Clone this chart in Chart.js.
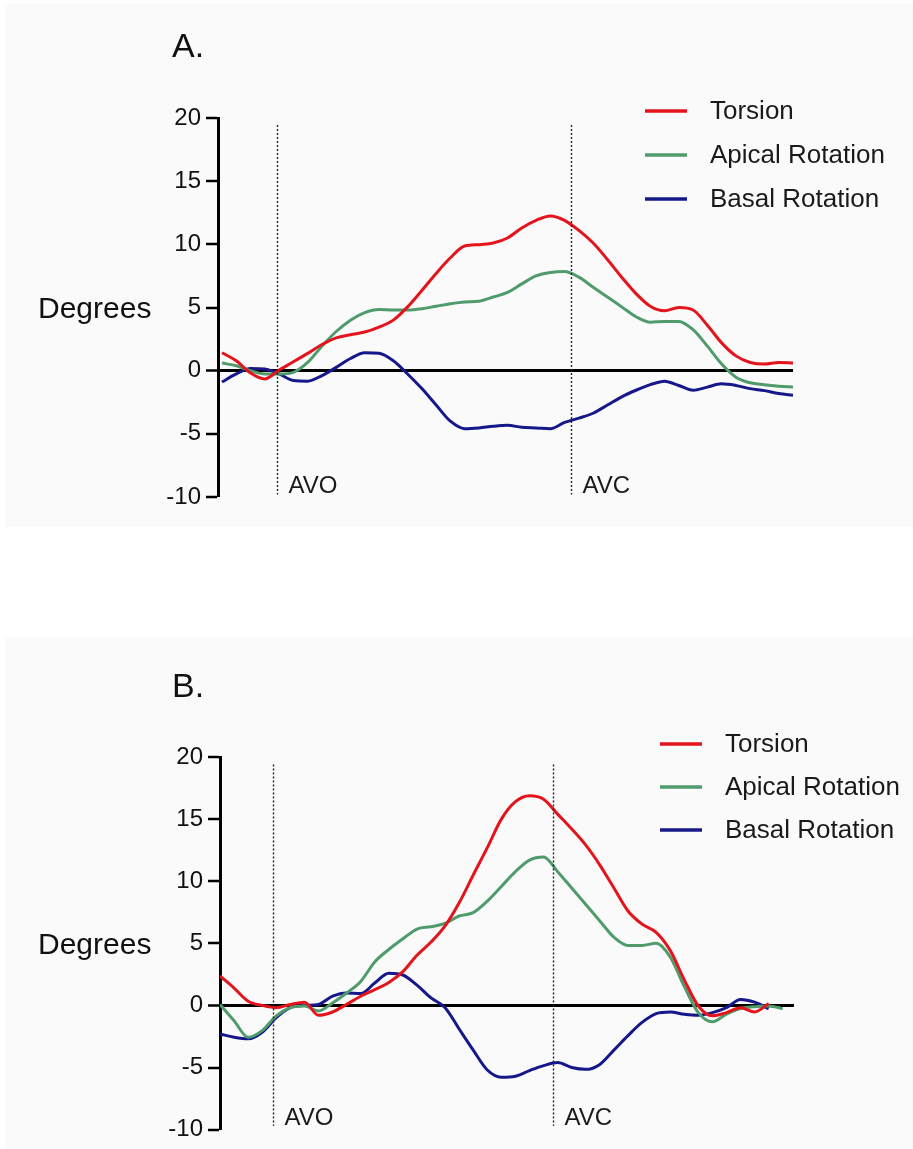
<!DOCTYPE html>
<html><head><meta charset="utf-8">
<script src="https://cdn.jsdelivr.net/npm/chart.js@4.4.1/dist/chart.umd.min.js"></script>
<style>
html,body{margin:0;padding:0;background:#fff;width:913px;height:1149px;overflow:hidden}
.panel{position:absolute;background:#fafafa}
#bgA{left:5px;top:4px;width:908px;height:523px}
#bgB{left:5px;top:637px;width:908px;height:512px}
.wrap{position:absolute;left:0;width:913px}
#wA{top:0;height:560px}
#wB{top:600px;height:549px}
canvas{display:block}
</style></head><body>
<div class="panel" id="bgA"></div><div class="panel" id="bgB"></div>
<div class="wrap" id="wA"><canvas id="cA" width="913" height="560"></canvas></div>
<div class="wrap" id="wB"><canvas id="cB" width="913" height="549"></canvas></div>
<script>
// ---------- DATA ----------
const seriesLabels = ['Torsion', 'Apical Rotation', 'Basal Rotation'];
const yTicks = [-10, -5, 0, 5, 10, 15, 20];
const eventLabels = ['AVO', 'AVC'];

// Panel A (time as % of plotted interval)
const timeA = [0,2.5,5,7.5,10,12.5,15,17.5,20,22.5,25,27.5,30,32.5,35,37.5,40,42.5,45,47.5,50,52.5,55,57.5,60,62.5,65,67.5,70,72.5,75,77.5,80,82.5,85,87.5,90,92.5,95,97.5,100];
const torsionA = [1.42,0.78,-0.18,-0.65,0.05,0.7,1.37,2.07,2.6,2.85,3.06,3.45,4.0,5.05,6.35,7.7,8.94,9.87,9.97,10.1,10.5,11.3,11.9,12.25,11.9,11.1,10.1,8.8,7.4,6.1,5.1,4.74,5.0,4.8,3.6,2.2,1.17,0.65,0.52,0.65,0.6];
const apicalA = [0.6,0.39,0.0,-0.26,-0.26,-0.13,0.65,1.94,3.1,4.0,4.6,4.84,4.8,4.8,4.9,5.1,5.3,5.44,5.5,5.83,6.2,6.87,7.5,7.77,7.85,7.4,6.6,5.83,5.05,4.27,3.83,3.9,3.9,3.24,1.94,0.52,-0.52,-0.96,-1.11,-1.24,-1.3];
const basalA = [-0.9,-0.26,0.18,0.13,-0.26,-0.78,-0.83,-0.39,0.26,0.96,1.42,1.37,0.78,-0.26,-1.42,-2.72,-4.0,-4.59,-4.53,-4.4,-4.33,-4.48,-4.53,-4.59,-4.1,-3.76,-3.37,-2.72,-2.07,-1.55,-1.11,-0.83,-1.17,-1.55,-1.3,-1.04,-1.17,-1.42,-1.58,-1.81,-1.94];
const eventsA = [9.6, 61.1];

// Panel B
const timeB = [0,2.5,5,7.5,10,12.5,15,17.5,20,22.5,25,27.5,30,32.5,35,37.5,40,42.5,45,47.5,50,52.5,55,57.5,60,62.5,65,67.5,70,72.5,75,77.5,80,82.5,85,87.5,90,92.5,95,97.5,100];
const torsionB = [2.37,1.4,0.34,0.0,-0.18,0.08,0.26,-0.8,-0.53,0.08,0.74,1.27,1.85,2.72,4.04,5.1,6.4,8.26,10.5,12.7,15.0,16.4,16.88,16.6,15.4,14.2,12.9,11.3,9.45,7.6,6.54,5.88,4.43,2.06,-0.05,-0.84,-0.58,-0.18,-0.53,0.16];
const apicalB = [0.08,-1.24,-2.56,-2.03,-0.84,-0.18,-0.05,-0.45,0.2,1.0,1.93,3.5,4.5,5.36,6.15,6.33,6.6,7.2,7.47,8.39,9.58,10.77,11.7,11.95,10.77,9.45,8.13,6.8,5.49,4.83,4.83,5.0,3.9,1.53,-0.58,-1.32,-0.71,-0.26,-0.1,-0.05,-0.26];
const basalB = [-2.3,-2.56,-2.69,-2.16,-0.98,-0.18,0.0,0.08,0.74,1.0,0.95,1.8,2.59,2.45,1.63,0.6,-0.18,-1.9,-3.6,-5.2,-5.78,-5.7,-5.25,-4.85,-4.6,-5.0,-5.15,-4.75,-3.6,-2.43,-1.37,-0.66,-0.53,-0.71,-0.79,-0.58,-0.18,0.47,0.26,-0.26];
const eventsB = [9.4, 59.1];

// ---------- STYLE ----------
const FONT = '"Liberation Sans", Arial, Helvetica, sans-serif';
const COLORS = ['#e3141c', '#4f9b6c', '#16188a'];

const toPts = (t, v) => v.map((y, i) => ({x: t[i], y}));

const decor = {
  id: 'decor',
  afterDatasetsDraw(chart, args, o) {
    const ctx = chart.ctx, xs = chart.scales.x, ys = chart.scales.y;
    ctx.save();
    o.events.forEach((ev, i) => {
      const x = Math.round(xs.getPixelForValue(ev)) + 0.5;
      ctx.strokeStyle = '#222';
      ctx.lineWidth = 1.4;
      ctx.setLineDash([2, 2]);
      ctx.beginPath();
      ctx.moveTo(x, ys.getPixelForValue(o.eventTop));
      ctx.lineTo(x, ys.getPixelForValue(o.eventBottom));
      ctx.stroke();
      ctx.setLineDash([]);
      ctx.fillStyle = '#1a1a1a';
      ctx.font = '24px ' + FONT;
      ctx.textAlign = 'left';
      ctx.textBaseline = 'alphabetic';
      ctx.fillText(eventLabels[i], x + 11, ys.getPixelForValue(o.eventLabelY));
    });
    ctx.restore();
  },
  afterDraw(chart, args, o) {
    const ctx = chart.ctx, ys = chart.scales.y;
    ctx.save();
    ctx.fillStyle = '#111';
    ctx.textAlign = 'left';
    ctx.textBaseline = 'alphabetic';
    ctx.font = '34px ' + FONT;
    ctx.fillText(o.title, o.titleX, o.titleY);
    ctx.font = '30px ' + FONT;
    ctx.textBaseline = 'middle';
    ctx.fillText('Degrees', o.degX, ys.getPixelForValue(5) + 2);
    // legend (in series order)
    ctx.font = '26px ' + FONT;
    chart.data.datasets.forEach((ds, i) => {
      const y = o.legY + i * o.legDy;
      ctx.strokeStyle = ds.borderColor;
      ctx.lineWidth = 3.5;
      ctx.beginPath();
      ctx.moveTo(o.legX, y);
      ctx.lineTo(o.legX + 42, y);
      ctx.stroke();
      ctx.fillStyle = '#1a1a1a';
      ctx.fillText(ds.label, o.legTextX, y + 1);
    });
    ctx.restore();
  }
};

function makeChart(canvas, time, series, xr, pad, deco) {
  return new Chart(canvas, {
    type: 'line',
    data: {
      datasets: series.map((s, i) => ({
        label: seriesLabels[i],
        data: toPts(time.slice(0, s.length), s),
        borderColor: COLORS[i],
        backgroundColor: COLORS[i],
        borderWidth: 3,
        pointRadius: 0,
        order: i,
        cubicInterpolationMode: 'monotone',
        fill: false
      }))
    },
    options: {
      responsive: false,
      animation: false,
      devicePixelRatio: 1,
      layout: {padding: pad},
      plugins: {legend: {display: false}, tooltip: {enabled: false}, decor: deco},
      scales: {
        x: {type: 'linear', display: false, min: xr[0], max: xr[1]},
        y: {
          min: yTicks[0], max: yTicks[yTicks.length - 1],
          afterFit(s) { s.width = 60; },
          afterBuildTicks(s) { s.ticks = yTicks.map(v => ({value: v})); },
          ticks: {color: '#111', padding: 5, font: {family: FONT, size: 24}},
          grid: {
            drawOnChartArea: true,
            color: c => (c.tick && c.tick.value === 0) ? '#000' : 'rgba(0,0,0,0)',
            lineWidth: c => (c.tick && c.tick.value === 0) ? 3 : 0,
            tickColor: '#000', tickLength: 12, tickWidth: 2.5
          },
          border: {display: true, color: '#000', width: 3}
        }
      }
    },
    plugins: [decor]
  });
}

// Panel A
const chartA = makeChart(document.getElementById('cA'), timeA, [torsionA, apicalA, basalA], [-0.7, 100],
  {left: 158, right: 120, top: 118, bottom: 63},
  {events: eventsA, eventTop: 19.45, eventBottom: -9.8, eventLabelY: -9.7,
   title: 'A.', titleX: 172, titleY: 57, degX: 38,
   legX: 645, legTextX: 710, legY: 111, legDy: 44});

// Panel B
const chartB = makeChart(document.getElementById('cB'), timeB, [torsionB, apicalB, basalB], [0, 102],
  {left: 160, right: 119, top: 157, bottom: 12},
  {events: eventsB, eventTop: 19.4, eventBottom: -9.7, eventLabelY: -9.6,
   title: 'B.', titleX: 172, titleY: 97, degX: 38,
   legX: 660, legTextX: 725, legY: 144, legDy: 43});
</script>
</body></html>
